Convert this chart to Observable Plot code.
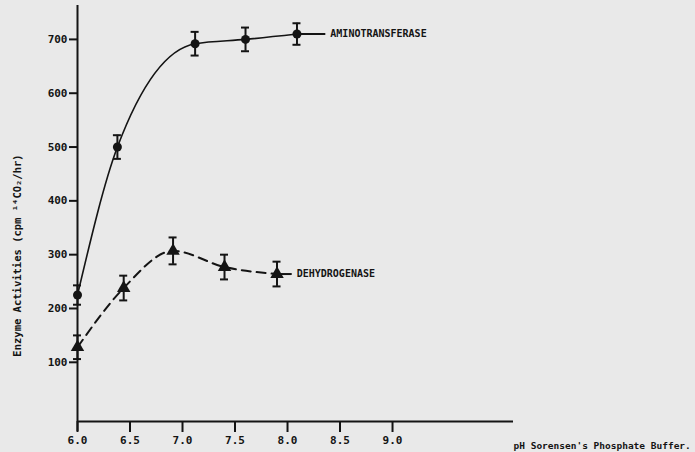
<!DOCTYPE html>
<html><head><meta charset="utf-8">
<script src="https://cdn.jsdelivr.net/npm/d3@7"></script>
<script src="https://cdn.jsdelivr.net/npm/@observablehq/plot@0.6"></script>
<style>
html,body{margin:0;padding:0;background:#e9e9e9;}
#chart{width:695px;height:452px;overflow:hidden;}
</style></head><body><div id="chart"></div>
<script>
const aminoPH = [6.0, 6.38, 7.12, 7.60, 8.09];
const aminoActivity = [225, 500, 692, 700, 710];
const aminoError = [18, 22, 22, 22, 20];
const dehydPH = [6.0, 6.44, 6.91, 7.40, 7.90];
const dehydActivity = [128, 238, 307, 277, 264];
const dehydError = [22, 23, 25, 23, 23];
const seriesNames = ["AMINOTRANSFERASE", "DEHYDROGENASE"];
const labelPH = [8.36, 8.04];
const xTicks = [6.0, 6.5, 7.0, 7.5, 8.0, 8.5, 9.0];
const yTicks = [100, 200, 300, 400, 500, 600, 700];
const xTitle = "pH Sorensen's Phosphate Buffer.";
const yTitle = "Enzyme Activities (cpm ¹⁴CO₂/hr)";

const ink = "#141414";
const xDomain = [6.0, 10.152];
const yDomain = [-10, 763];

const amino = aminoPH.map((x, i) => ({x, y: aminoActivity[i], lo: aminoActivity[i] - aminoError[i], hi: aminoActivity[i] + aminoError[i]}));
const dehyd = dehydPH.map((x, i) => ({x, y: dehydActivity[i], lo: dehydActivity[i] - dehydError[i], hi: dehydActivity[i] + dehydError[i]}));
const all = amino.concat(dehyd);
const labels = [amino, dehyd].map((s, i) => ({x1: s[s.length - 1].x, x2: labelPH[i], y: s[s.length - 1].y, name: seriesNames[i]}));

const chart = Plot.plot({
  width: 695,
  height: 452,
  marginLeft: 77,
  marginRight: 182,
  marginTop: 5,
  marginBottom: 31,
  style: {background: "transparent", fontFamily: "DejaVu Sans Mono", fontWeight: "bold", fontSize: "11px", color: ink},
  x: {domain: xDomain},
  y: {domain: yDomain},
  marks: [
    Plot.ruleY([yDomain[0]], {stroke: ink, strokeWidth: 2}),
    Plot.ruleX([xDomain[0]], {stroke: ink, strokeWidth: 2, insetBottom: -10}),
    Plot.axisX({ticks: xTicks, tickSize: 11, tickPadding: 4, tickFormat: d3.format(".1f"), label: null, stroke: ink, strokeWidth: 2, fill: ink}),
    Plot.axisY({ticks: yTicks, tickSize: 8, tickPadding: 2, label: null, stroke: ink, strokeWidth: 2, fill: ink}),
    Plot.line(amino, {x: "x", y: "y", curve: "monotone-x", stroke: ink, strokeWidth: 1.6}),
    Plot.line(dehyd, {x: "x", y: "y", curve: "monotone-x", stroke: ink, strokeWidth: 2, strokeDasharray: "9,6"}),
    Plot.link(labels, {x1: "x1", x2: "x2", y1: "y", y2: "y", stroke: ink, strokeWidth: 2}),
    Plot.ruleX(all, {x: "x", y1: "lo", y2: "hi", stroke: ink, strokeWidth: 2}),
    Plot.ruleY(all, {y: "hi", x1: "x", x2: "x", insetLeft: -4, insetRight: -4, stroke: ink, strokeWidth: 2}),
    Plot.ruleY(all, {y: "lo", x1: "x", x2: "x", insetLeft: -4, insetRight: -4, stroke: ink, strokeWidth: 2}),
    Plot.dot(amino, {x: "x", y: "y", r: 4.5, fill: ink, symbol: "circle"}),
    Plot.dot(dehyd, {x: "x", y: "y", r: 5, fill: ink, symbol: "triangle"}),
    Plot.text(labels, {x: "x2", y: "y", text: "name", textAnchor: "start", dx: 5, fontSize: 10, fill: ink}),
    Plot.text([xTitle], {frameAnchor: "bottom-right", textAnchor: "start", dy: 27, fontSize: 9.5, fill: ink}),
    Plot.text([yTitle], {frameAnchor: "left", textAnchor: "middle", rotate: -90, dx: -60, dy: 42, fontSize: 10.5, fill: ink})
  ]
});
document.getElementById("chart").appendChild(chart);
</script></body></html>
